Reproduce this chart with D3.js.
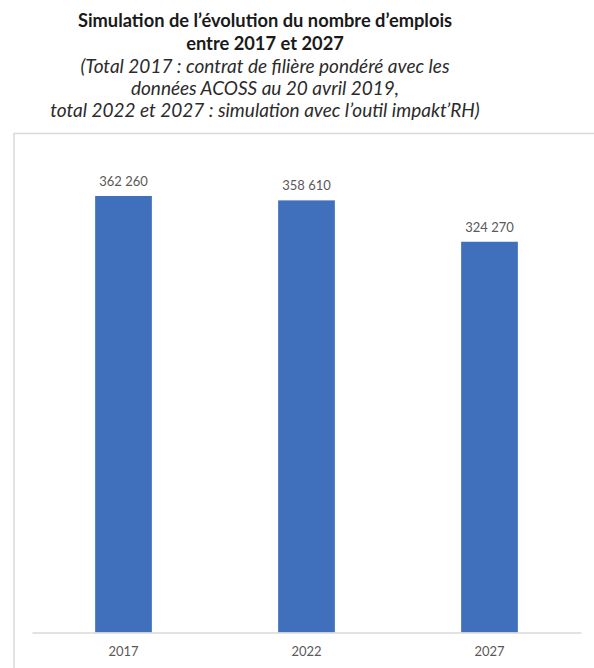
<!DOCTYPE html>
<html>
<head>
<meta charset="utf-8">
<script src="https://cdn.jsdelivr.net/npm/d3@7/dist/d3.min.js"></script>
<style>
  html, body { margin: 0; padding: 0; background: #fff; }
  svg { display: block; }
  text { font-family: Lato, "Open Sans", sans-serif; }
</style>
</head>
<body>
<svg id="chart" width="594" height="668"></svg>
<script>
// Employment totals per year
const years = ["2017", "2022", "2027"];
const jobs = [362260, 358610, 324270];
const valueLabels = ["362 260", "358 610", "324 270"];

const titleLines = [
  "Simulation de l\u2019évolution du nombre d\u2019emplois",
  "entre 2017 et 2027"
];
const noteLines = [
  "(Total 2017 : contrat de filière pondéré avec les",
  "données ACOSS au 20 avril 2019,",
  "total 2022 et 2027 : simulation avec l\u2019outil impakt\u2019RH)"
];

const svg = d3.select("#chart");
const W = 594, H = 668;

// Title block
const cx = 265;
svg.selectAll("text.title")
  .data(titleLines)
  .join("text")
  .attr("class", "title")
  .attr("x", cx)
  .attr("y", (d, i) => 27 + i * 22.5)
  .attr("text-anchor", "middle")
  .attr("font-weight", "bold")
  .attr("font-size", 18.3)
  .attr("fill", "#1a1a1a")
  .text(d => d);

svg.selectAll("text.note")
  .data(noteLines)
  .join("text")
  .attr("class", "note")
  .attr("x", cx)
  .attr("y", (d, i) => 73 + i * 22)
  .attr("text-anchor", "middle")
  .attr("font-style", "italic")
  .attr("font-size", 19)
  .attr("fill", "#2b2b2b")
  .text(d => d);

// Chart frame (left and top edges)
svg.append("path")
  .attr("d", `M14,${H} L14,133.5 L${W},133.5`)
  .attr("fill", "none")
  .attr("stroke", "#d9d9d9")
  .attr("stroke-width", 1.5);

// Scales
const x = d3.scaleBand()
  .domain(years)
  .range([32, 581])
  .paddingInner(0.69)
  .paddingOuter(0.345);

const y = d3.scaleLinear()
  .domain([0, 400000])
  .range([632.5, 150.5]);

// Bars
svg.append("g")
  .selectAll("rect")
  .data(jobs)
  .join("rect")
  .attr("x", (d, i) => x(years[i]))
  .attr("y", d => y(d))
  .attr("width", x.bandwidth())
  .attr("height", d => y(0) - y(d))
  .attr("fill", "#4070bb");

// Value labels
svg.append("g")
  .selectAll("text")
  .data(jobs)
  .join("text")
  .attr("x", (d, i) => x(years[i]) + x.bandwidth() / 2)
  .attr("y", d => y(d) - 10)
  .attr("text-anchor", "middle")
  .attr("font-size", 13)
  .attr("fill", "#595959")
  .text((d, i) => valueLabels[i]);

// Category axis
const axis = svg.append("g")
  .attr("transform", `translate(0,${y(0)})`)
  .call(d3.axisBottom(x).tickSize(0).tickPadding(14));
axis.select(".domain").attr("stroke", "#d9d9d9").attr("stroke-width", 1.5);
axis.selectAll("text")
  .attr("font-family", "Lato, 'Open Sans', sans-serif")
  .attr("font-size", 13)
  .attr("fill", "#595959");
</script>
</body>
</html>
